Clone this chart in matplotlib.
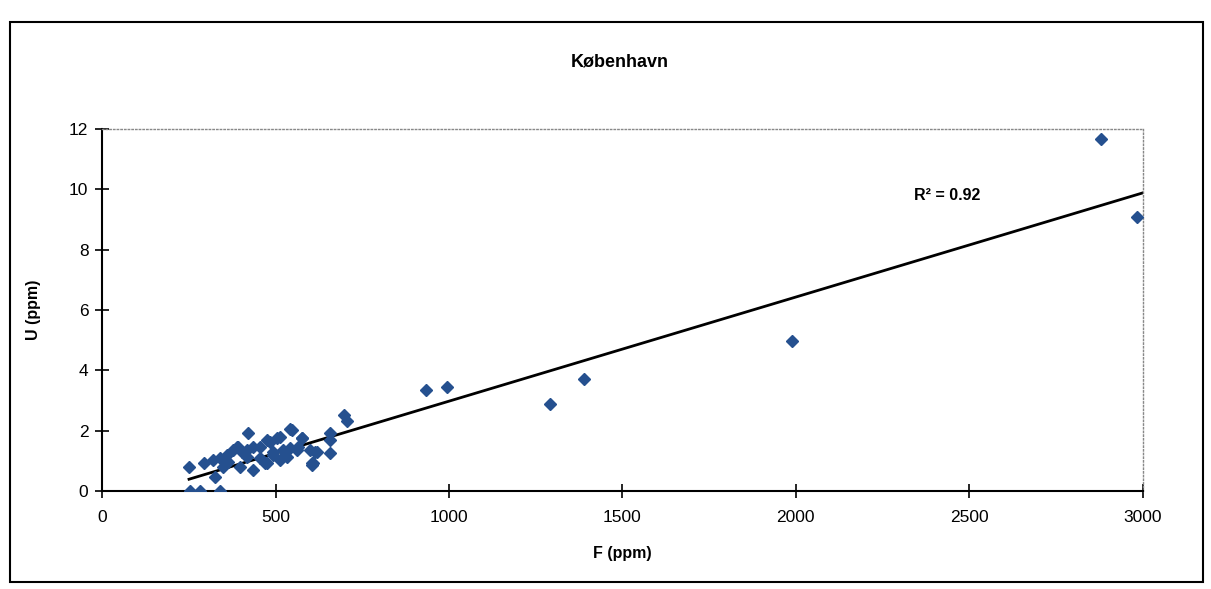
import numpy as np
import matplotlib.pyplot as plt
from matplotlib.patches import Rectangle

# F (ppm) and U (ppm)
f_ppm = [250, 292, 253, 282, 338, 325, 420, 392, 435, 474, 339, 359, 378, 387,
         397, 435, 455, 469, 483, 503, 522, 541, 532, 561, 575, 599, 618, 608,
         657, 657, 657, 349, 320, 363, 416, 493, 512, 455, 402, 416, 546, 512,
         575, 474, 541, 604, 613, 493, 563, 605, 696, 705, 933, 995, 1291,
         1390, 1989, 2879, 2984]
u_ppm = [0.78, 0.92, 0.0, 0.0, 0.0, 0.47, 1.93, 1.47, 1.47, 1.69, 1.08, 1.19,
         1.36, 1.47, 0.80, 0.70, 1.08, 0.92, 1.63, 1.75, 1.36, 2.04, 1.14, 1.36,
         1.75, 1.36, 1.30, 0.92, 1.91, 1.69, 1.27, 0.80, 1.03, 0.97, 1.14, 1.19,
         1.03, 1.47, 1.30, 1.36, 2.02, 1.80, 1.75, 0.92, 1.41, 0.92, 1.30, 1.30,
         1.47, 0.86, 2.52, 2.33, 3.34, 3.45, 2.87, 3.70, 4.97, 11.66, 9.08]

# trend line end points as drawn
trend_x = [250, 3000]
trend_y = [0.39, 9.88]
r2_text = "R² = 0.92"

plt.rcParams['font.family'] = ['Liberation Sans', 'DejaVu Sans']

fig = plt.figure(figsize=(12.11, 5.89), dpi=100)
ax = fig.add_axes([0.0845, 0.1664, 0.859, 0.6146])

ax.plot(f_ppm, u_ppm, linestyle='none', marker='D', markersize=6.5,
        color='#25508f', markeredgecolor='#25508f', zorder=3)
ax.plot(trend_x, trend_y, color='black', linewidth=2, zorder=2)
ax.text(2436, 9.8, r2_text, fontsize=11.5, fontweight='bold', ha='center', va='center')

ax.set_xlim(0, 3000)
ax.set_ylim(0, 12)
ax.set_xticks([0, 500, 1000, 1500, 2000, 2500, 3000])
ax.set_yticks([0, 2, 4, 6, 8, 10, 12])
ax.tick_params(direction='inout', length=10, width=1.2, labelsize=12.5)
ax.tick_params(axis='x', pad=9)
ax.tick_params(axis='y', pad=5)

# plot area frame: solid axes, dotted top/right
ax.spines['left'].set_linewidth(1.5)
ax.spines['bottom'].set_linewidth(1.5)
for side in ['top', 'right']:
    ax.spines[side].set_color('#888888')
    ax.spines[side].set_linestyle(':')
    ax.spines[side].set_linewidth(1)

ax.set_xlabel('F (ppm)', fontsize=11.5, fontweight='bold', labelpad=15)
ax.set_ylabel('U (ppm)', fontsize=11.5, fontweight='bold', labelpad=20)
fig.text(0.512, 0.895, 'København', fontsize=13, fontweight='bold',
         ha='center', va='center')

# outer chart border
fig.patches.append(Rectangle((0.008, 0.012), 0.985, 0.951, transform=fig.transFigure,
                             fill=False, edgecolor='black', linewidth=1.5))

fig.savefig('out.png', dpi=100)
